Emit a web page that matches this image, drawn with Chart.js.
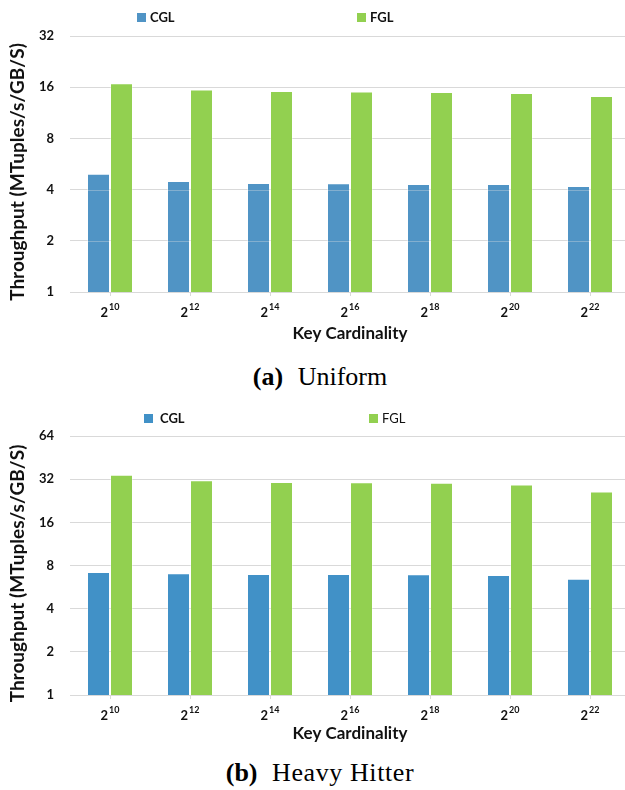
<!DOCTYPE html>
<html>
<head>
<meta charset="utf-8">
<title>Throughput by key cardinality</title>
<script src="https://cdn.jsdelivr.net/npm/chart.js@4.4.1/dist/chart.umd.min.js"></script>
<style>
  html, body { margin: 0; padding: 0; background: #fff; overflow: hidden; }
  #page { position: relative; width: 625px; height: 790px; overflow: hidden; background: #fff; }
  canvas { position: absolute; left: 0; display: block; }
  #chartA { top: 0; }
  #chartB { top: 395px; }
  .cap {
    position: absolute; left: 0; width: 640px; text-align: center;
    font-family: "Liberation Serif", "Times New Roman", serif;
    font-size: 26px; line-height: 26px; color: #000; white-space: nowrap;
  }
  .cap b { margin-right: 8px; }
  .wide { letter-spacing: 0.6px; }
</style>
</head>
<body>
<div id="page">
  <canvas id="chartA" width="630" height="350"></canvas>
  <div class="cap" style="top:364px"><b>(a)</b> Uniform</div>
  <canvas id="chartB" width="630" height="355"></canvas>
  <div class="cap" style="top:760px"><b>(b)</b> <span class="wide">Heavy Hitter</span></div>
</div>
<script>
// Key cardinality is 2^exponent
const exponents = ['10', '12', '14', '16', '18', '20', '22'];

// Uniform key distribution (MTuples/s/GB/S)
const uniformCGL = [4.95, 4.50, 4.38, 4.36, 4.32, 4.32, 4.20];
const uniformFGL = [16.9, 15.5, 15.2, 15.1, 15.0, 14.8, 14.2];

// Heavy-hitter key distribution (MTuples/s/GB/S)
const heavyCGL = [7.21, 7.06, 6.98, 6.98, 6.95, 6.87, 6.47];
const heavyFGL = [34.3, 31.5, 30.6, 30.5, 30.2, 29.4, 26.3];

// Power-of-two axis ticks
const uniformTicks = [1, 2, 4, 8, 16, 32];
const heavyTicks = [1, 2, 4, 8, 16, 32, 64];

const SANS = 'Lato, "Open Sans", "DejaVu Sans", sans-serif';
const INK = '#111';
const GRID = '#d9d9d9';
const GREEN = '#92D050';

// Square-marker legend at fixed spots above the plot
const boxLegend = {
  id: 'boxLegend',
  afterDraw(chart, args, o) {
    const ctx = chart.ctx;
    ctx.save();
    ctx.textAlign = 'left';
    ctx.textBaseline = 'alphabetic';
    o.items.forEach((it, i) => {
      const ds = chart.data.datasets[i];
      ctx.fillStyle = ds.backgroundColor;
      ctx.fillRect(it.box, o.y, 9, 9);
      ctx.fillStyle = INK;
      ctx.font = `${it.weight} 13px ${SANS}`;
      ctx.fillText(ds.label, it.text, o.y + 9);
    });
    ctx.restore();
  }
};

// Faint gridlines that show through the CGL bars
const gridOverBars = {
  id: 'gridOverBars',
  afterDatasetDraw(chart, args, o) {
    if (!o.enabled || args.index !== 0) return;
    const ctx = chart.ctx, y = chart.scales.y;
    const meta = chart.getDatasetMeta(0);
    ctx.save();
    ctx.strokeStyle = 'rgba(225,225,225,0.35)';
    ctx.lineWidth = 1;
    meta.data.forEach(bar => {
      const p = bar.getProps(['x', 'y', 'width'], true);
      y.ticks.forEach(t => {
        const py = Math.round(y.getPixelForValue(t.value)) + 0.5;
        if (py <= p.y + 1 || py >= chart.chartArea.bottom) return;
        ctx.beginPath();
        ctx.moveTo(p.x - p.width / 2 + 1, py);
        ctx.lineTo(p.x + p.width / 2 - 1, py);
        ctx.stroke();
      });
    });
    ctx.restore();
  }
};

// Axis titles and 2^n category labels
const axisText = {
  id: 'axisText',
  afterDraw(chart, args, o) {
    const ctx = chart.ctx, x = chart.scales.x, area = chart.chartArea;
    ctx.save();
    ctx.fillStyle = INK;
    ctx.textAlign = 'left';
    ctx.textBaseline = 'alphabetic';
    chart.data.labels.forEach((exp, i) => {
      const cx = x.getPixelForTick(i);
      ctx.font = `bold 13px ${SANS}`;
      const wBase = ctx.measureText('2').width;
      ctx.font = `bold 9px ${SANS}`;
      const wExp = ctx.measureText(exp).width;
      const left = cx - (wBase + 1 + wExp) / 2;
      ctx.font = `bold 13px ${SANS}`;
      ctx.fillText('2', left, area.bottom + 25);
      ctx.font = `bold 9px ${SANS}`;
      ctx.fillText(exp, left + wBase + 1, area.bottom + 18);
    });
    ctx.font = `bold 17px ${SANS}`;
    ctx.textAlign = 'center';
    ctx.fillText(o.xTitle, (area.left + area.right) / 2, area.bottom + o.xTitleDy);
    ctx.font = `bold 19px ${SANS}`;
    ctx.translate(18, (area.top + area.bottom) / 2 + 8);
    ctx.rotate(-Math.PI / 2);
    ctx.textBaseline = 'middle';
    ctx.fillText(o.yTitle, 0, 0);
    ctx.restore();
  }
};

function throughputChart(canvas, cfg) {
  return new Chart(canvas, {
    type: 'bar',
    data: {
      labels: exponents,
      datasets: [
        {
          label: 'CGL', data: cfg.cgl, backgroundColor: cfg.blue,
          borderColor: 'rgba(255,255,255,0.35)', borderWidth: 1, borderSkipped: 'bottom'
        },
        {
          label: 'FGL', data: cfg.fgl, backgroundColor: GREEN,
          borderColor: 'rgba(255,255,255,0.35)', borderWidth: 1, borderSkipped: 'bottom'
        }
      ]
    },
    options: {
      responsive: false,
      animation: false,
      devicePixelRatio: 1,
      layout: { padding: { top: cfg.top, left: 0, right: 0, bottom: 0 } },
      datasets: { bar: { barPercentage: 1, categoryPercentage: 0.575 } },
      plugins: {
        legend: { display: false },
        tooltip: { enabled: false },
        boxLegend: { y: cfg.legendY, items: cfg.legendItems },
        gridOverBars: { enabled: cfg.gridOverBars },
        axisText: {
          xTitle: 'Key Cardinality', xTitleDy: cfg.xTitleDy,
          yTitle: 'Throughput (MTuples/s/GB/S)'
        }
      },
      scales: {
        x: {
          grid: {
            offset: false, drawOnChartArea: false, drawTicks: true,
            tickLength: 4, color: GRID
          },
          border: { display: false },
          ticks: { display: false },
          afterFit(s) { s.height = cfg.xHeight; }
        },
        y: {
          type: 'logarithmic',
          min: 1,
          max: cfg.ticks[cfg.ticks.length - 1],
          afterBuildTicks(s) { s.ticks = cfg.ticks.map(v => ({ value: v })); },
          ticks: {
            padding: 16,
            color: INK,
            font: { family: SANS, weight: 'bold', size: 13 },
            callback: v => String(v)
          },
          grid: { color: GRID, drawTicks: false },
          border: { display: false },
          afterFit(s) { s.width = 70; }
        }
      }
    },
    plugins: [gridOverBars, boxLegend, axisText]
  });
}

throughputChart(document.getElementById('chartA'), {
  cgl: uniformCGL, fgl: uniformFGL, ticks: uniformTicks,
  blue: '#5094C5', gridOverBars: true,
  top: 36, xHeight: 58, xTitleDy: 47,
  legendY: 13,
  legendItems: [
    { box: 137, text: 150, weight: 'bold' },
    { box: 357, text: 370, weight: 'bold' }
  ]
});

throughputChart(document.getElementById('chartB'), {
  cgl: heavyCGL, fgl: heavyFGL, ticks: heavyTicks,
  blue: '#4191C7', gridOverBars: false,
  top: 41, xHeight: 55, xTitleDy: 44,
  legendY: 19,
  legendItems: [
    { box: 144, text: 160, weight: 'bold' },
    { box: 369, text: 382, weight: 'normal' }
  ]
});
</script>
</body>
</html>
